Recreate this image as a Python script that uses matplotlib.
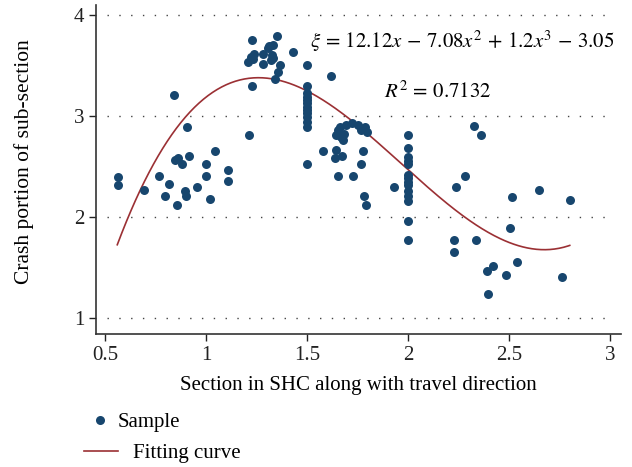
import numpy as np
import matplotlib
matplotlib.use("Agg")
import matplotlib.pyplot as plt
from matplotlib.lines import Line2D

plt.rcParams['font.family'] = ['Liberation Serif', 'DejaVu Serif']
plt.rcParams['mathtext.fontset'] = 'stix'

# Sample points
sample_x = [
    0.565, 0.565, 0.694, 0.767, 0.817, 0.797, 0.858, 0.847, 0.863, 0.881,
    0.917, 0.895, 0.898, 0.953, 1.017, 1.001, 1.001, 1.045, 1.11, 1.11,
    0.843, 0.906,
    1.225, 1.352, 1.428, 1.208, 1.221, 1.238, 1.233, 1.279, 1.279, 1.304,
    1.312, 1.331, 1.324, 1.321, 1.332, 1.366, 1.357, 1.339, 1.225, 1.213,
    1.50, 1.50, 1.50, 1.50, 1.50, 1.50, 1.50, 1.50, 1.50, 1.50, 1.50, 1.50, 1.50,
    1.619, 1.653, 1.644, 1.661, 1.677, 1.694, 1.724, 1.752, 1.769, 1.785,
    1.798, 1.669, 1.682, 1.578, 1.644, 1.636, 1.672, 1.777, 1.765, 1.653,
    1.725, 1.78, 1.79, 1.931,
    2.0, 2.0, 2.0, 2.0, 2.0, 2.0, 2.0, 2.0, 2.0, 2.0, 2.0, 2.0, 2.0, 2.0,
    2.324, 2.36, 2.281, 2.238, 2.225, 2.225, 2.337, 2.389, 2.418, 2.394,
    2.482, 2.516, 2.647, 2.80, 2.506, 2.538, 2.76,
]
sample_y = [
    2.40, 2.32, 2.27, 2.41, 2.33, 2.21, 2.12, 2.567, 2.59, 2.525,
    2.61, 2.257, 2.208, 2.30, 2.18, 2.525, 2.406, 2.66, 2.465, 2.356,
    3.215, 2.897,
    3.755, 3.795, 3.637, 3.541, 3.584, 3.614, 3.567, 3.620, 3.515, 3.673,
    3.696, 3.709, 3.610, 3.557, 3.580, 3.505, 3.436, 3.366, 3.303, 2.812,
    3.505, 3.30, 3.228, 3.194, 3.161, 3.128, 3.095, 3.062, 3.029, 2.996, 2.947, 2.897, 2.525,
    3.40, 2.864, 2.815, 2.897, 2.765, 2.914, 2.937, 2.914, 2.864, 2.897,
    2.847, 2.792, 2.825, 2.66, 2.666, 2.584, 2.607, 2.66, 2.525, 2.409,
    2.409, 2.21, 2.12, 2.30,
    2.812, 2.686, 2.594, 2.56, 2.528, 2.419, 2.386, 2.352, 2.32, 2.26, 2.211, 2.161, 1.966, 1.772,
    2.90, 2.812, 2.409, 2.30, 1.772, 1.659, 1.772, 1.471, 1.518, 1.24,
    1.43, 2.204, 2.27, 2.174, 1.897, 1.56, 1.409,
]

# Fitted cubic as printed on the chart
coef = [-3.05, 12.12, -7.08, 1.2]
fit_range = (0.56, 2.8)

x_ticks = [0.5, 1, 1.5, 2, 2.5, 3]
y_ticks = [1, 2, 3, 4]

point_color = "#17466e"
curve_color = "#9b3034"
fs = 15

fig = plt.figure(figsize=(6.32, 4.67), dpi=100)
ax = fig.add_axes([0.152, 0.285, 0.831, 0.704])

ax.hlines(y_ticks, 0.51, 3.0, color="#444444", linestyle=(0, (1, 7.5)),
          linewidth=1.0, zorder=0)

ax.scatter(sample_x, sample_y, s=42, color=point_color, zorder=3, linewidths=0)

xf = np.linspace(fit_range[0], fit_range[1], 300)
yf = coef[0] + coef[1] * xf + coef[2] * xf ** 2 + coef[3] * xf ** 3
ax.plot(xf, yf, color=curve_color, linewidth=1.2, zorder=2)

ax.set_xlim(0.455, 3.055)
ax.set_ylim(0.845, 4.1)
ax.set_xticks(x_ticks)
ax.set_xticklabels(["0.5", "1", "1.5", "2", "2.5", "3"])
ax.set_yticks(y_ticks)
ax.tick_params(direction="out", length=5, width=1, labelsize=fs, colors="#222222")
for side in ["top", "right"]:
    ax.spines[side].set_visible(False)
for side in ["left", "bottom"]:
    ax.spines[side].set_linewidth(1.2)
    ax.spines[side].set_color("#333333")

ax.set_xlabel("Section in SHC along with travel direction", fontsize=fs, labelpad=8)
ax.set_ylabel("Crash portion of sub-section", fontsize=15.5)
ax.yaxis.set_label_coords(-0.118, 0.523)

ax.text(1.515, 3.745, r"$\xi\,=\,12.12x\,-\,7.08x^2\,+\,1.2x^3\,-\,3.05$",
        fontsize=15, va="center", ha="left")
ax.text(1.881, 3.24, r"$R^2\,=\,0.7132$", fontsize=15, va="center", ha="left")

# two separate legends so each handle sits where the reference puts it
sample_handle = Line2D([], [], linestyle="none", marker="o", markersize=6.5,
                       markerfacecolor=point_color, markeredgewidth=0)
curve_handle = Line2D([], [], color=curve_color, linewidth=1.2)
em = fs * 100 / 72
W, H = 632, 467
fig.legend([sample_handle], ["Sample"], loc="center left",
           bbox_to_anchor=((100 - 0.4 * em) / W, 1 - 422 / H),
           frameon=False, fontsize=fs, handlelength=0.8,
           handletextpad=0.45, borderaxespad=0, borderpad=0)
fig.legend([curve_handle], ["Fitting curve"], loc="center left",
           bbox_to_anchor=(84 / W, 1 - 453 / H),
           frameon=False, fontsize=fs, handlelength=1.63,
           handletextpad=0.72, borderaxespad=0, borderpad=0)

fig.savefig("out.png", dpi=100)
